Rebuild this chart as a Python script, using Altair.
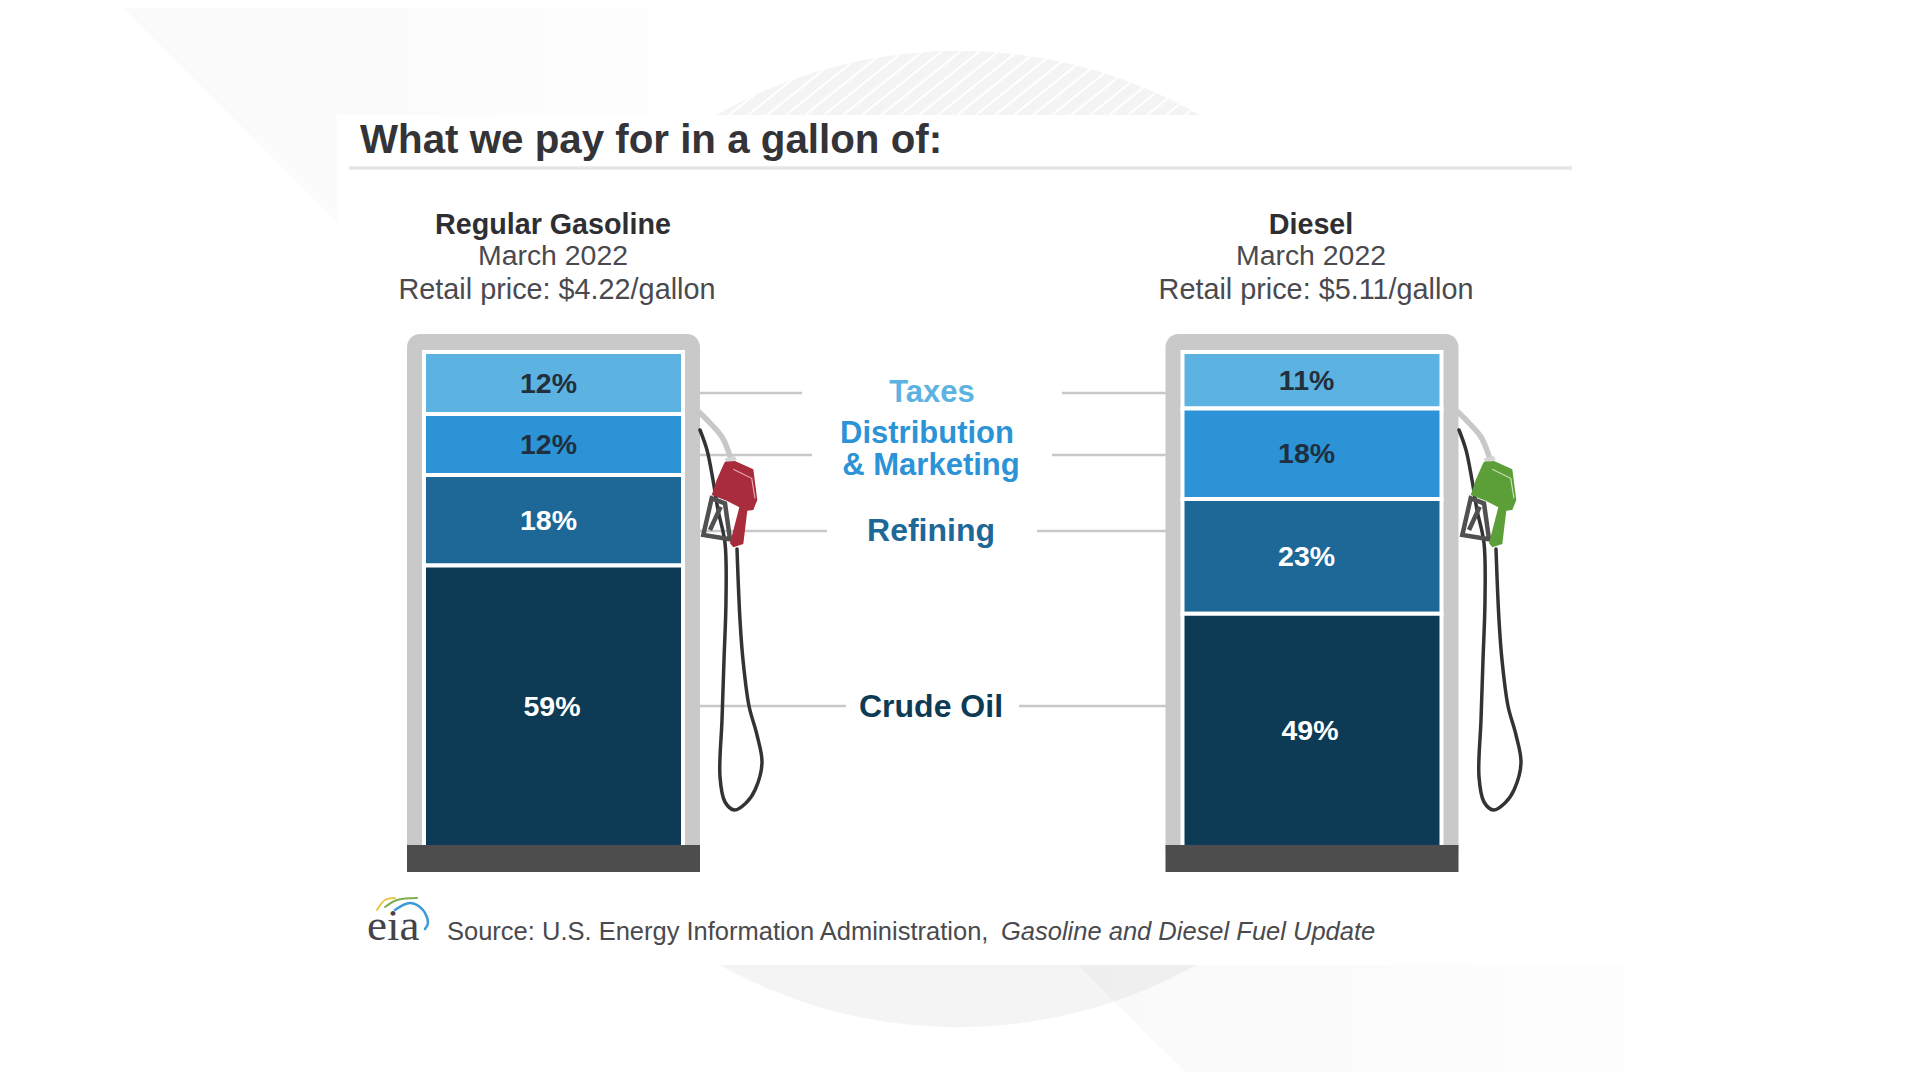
import altair as alt
import pandas as pd

# ---- chart values ----
categories = ["Taxes", "Distribution & Marketing", "Refining", "Crude Oil"]
gasoline_labels = ["12%", "12%", "18%", "59%"]
diesel_labels = ["11%", "18%", "23%", "49%"]
# segment heights as drawn, share of the pump window
gasoline_drawn = [12.5, 12.3, 18.25, 56.95]
diesel_drawn = [11.4, 18.25, 23.1, 47.25]
fuels = ["Regular Gasoline", "Diesel"]
months = ["March 2022", "March 2022"]
prices = ["Retail price: $4.22/gallon", "Retail price: $5.11/gallon"]
seg_colors = ["#5cb3e2", "#2c93d7", "#1d6897", "#0d3a54"]
label_colors = ["#22303c", "#1f2f3f", "#ffffff", "#ffffff"]

W, H = 1904, 1064
FONT = "Liberation Sans"
xs = alt.Scale(domain=[8, 1912], nice=False, zero=False, padding=0)
ys = alt.Scale(domain=[1072, 8], nice=False, zero=False, padding=0)


def X(f="x"):
    return alt.X(f"{f}:Q", scale=xs, axis=None)


def Y(f="y"):
    return alt.Y(f"{f}:Q", scale=ys, axis=None)


def rects(rows, color, **kw):
    df = pd.DataFrame(rows, columns=["x", "x2", "y", "y2"])
    return alt.Chart(df).mark_rect(color=color, **kw).encode(
        x=X(), x2="x2:Q", y=Y(), y2="y2:Q")


def rules(rows, color, width):
    df = pd.DataFrame(rows, columns=["x", "x2", "y", "y2"])
    return alt.Chart(df).mark_rule(color=color, strokeWidth=width).encode(
        x=X(), x2="x2:Q", y=Y(), y2="y2:Q")


def text(s, x, y, size, color, weight="normal", style="normal", align="center", font=FONT):
    df = pd.DataFrame({"t": [s], "x": [x], "y": [y]})
    return alt.Chart(df).mark_text(font=font, fontSize=size, color=color, fontWeight=weight,
                                   fontStyle=style, align=align, baseline="alphabetic").encode(
        x=X(), y=Y(), text="t:N")


def curve(pts, color, width, dx=0):
    df = pd.DataFrame([{"x": p[0] + dx, "y": p[1], "i": i} for i, p in enumerate(pts)])
    return alt.Chart(df).mark_line(color=color, strokeWidth=width, interpolate="catmull-rom",
                                   strokeCap="round").encode(x=X(), y=Y(), order="i:Q")


def grad(a, mid, at):
    return {"gradient": "linear", "x1": 0, "x2": 1, "y1": 0, "y2": 0,
            "stops": [{"offset": 0, "color": f"rgba(0,0,0,{a})"},
                      {"offset": at, "color": f"rgba(0,0,0,{mid})"},
                      {"offset": 1, "color": "rgba(0,0,0,0)"}]}


def band(rows, fill):
    df = pd.DataFrame(rows, columns=["y", "x", "x2"])
    return alt.Chart(df).mark_area(orient="horizontal", fill=fill).encode(
        y=Y(), x=X(), x2="x2:Q")


layers = []
# background
layers.append(band([[0, 115, 800], [222, 337, 800]], grad(0.02, 0.016, 0.4)))
circle_df = pd.DataFrame({"x": [958], "y": [539]})
layers.append(alt.Chart(circle_df).mark_point(shape="circle", filled=True, fill="#f4f4f4", opacity=1,
                                              size=976 ** 2, stroke=None).encode(x=X(), y=Y()))
layers.append(rules([[x0, x0 + 80, 115, 51] for x0 in range(710, 1200, 19)], "#ffffff", 2.2))
layers.append(band([[965, 1078, 1800], [1080, 1193, 1800]], grad(0.024, 0.016, 0.35)))
layers.append(rects([[337, 1700, 115, 965]], "#ffffff"))

# headings
layers.append(rules([[349, 1572, 168, 168]], "#e6e6e6", 3.5))
layers.append(text("What we pay for in a gallon of:", 360, 153, 40.3, "#333338", "bold", align="left"))
centers = [(553, 557), (1311, 1316)]
for fuel, month, price, (c, cp) in zip(fuels, months, prices, centers):
    layers.append(text(fuel, c, 234, 28.7, "#2f2f33", "bold"))
    layers.append(text(month, c, 265, 28.4, "#4a4a4e"))
    layers.append(text(price, cp, 299, 28.8, "#4a4a4e"))

# leader lines and labels of the categories
layers.append(rules([[699, 802, 393, 393], [1062, 1166, 393, 393],
                     [699, 812, 455, 455], [1052, 1166, 455, 455],
                     [699, 827, 531, 531], [1037, 1166, 531, 531],
                     [699, 846, 706, 706], [1019, 1166, 706, 706]], "#c8c8c8", 2.5))
layers.append(text("Taxes", 932, 402, 31, seg_colors[0], "bold"))
layers.append(text("Distribution", 927, 443, 31, seg_colors[1], "bold"))
layers.append(text("& Marketing", 931, 475, 31, seg_colors[1], "bold"))
layers.append(text("Refining", 931, 541, 32, seg_colors[2], "bold"))
layers.append(text("Crude Oil", 931, 717, 32, seg_colors[3], "bold"))

# pumps
layers.append(rects([[407, 700, 334, 850], [1165.5, 1458.5, 334, 850]], "#c9c9c9",
                    cornerRadiusTopLeft=13, cornerRadiusTopRight=13))
layers.append(rects([[422, 684, 351, 850], [1181, 1443, 351, 850]], "#ffffff"))

share_scale = alt.Scale(domain=[0, 100], range=[840, 344], nice=False, zero=False, padding=0)
for center, labels, drawn, lx in [(553.5, gasoline_labels, gasoline_drawn, [548.5, 548.5, 548.5, 552]),
                                  (1312, diesel_labels, diesel_drawn, [1306.6, 1306.6, 1306.6, 1310])]:
    df = pd.DataFrame({"cat": categories, "share": drawn, "rank": [3, 2, 1, 0],
                       "c": seg_colors, "x": center})
    layers.append(alt.Chart(df).mark_bar(size=259, stroke="#ffffff", strokeWidth=4).encode(
        x=X(), y=alt.Y("share:Q", stack="zero", scale=share_scale, axis=None),
        order=alt.Order("rank:Q"), color=alt.Color("c:N", scale=None)))
    mids, acc = [], 0.0
    for v in reversed(drawn):
        mids.append(acc + v / 2)
        acc += v
    mids.reverse()
    ldf = pd.DataFrame({"t": labels, "mid": mids, "x": lx, "c": label_colors})
    layers.append(alt.Chart(ldf).mark_text(font=FONT, fontSize=28.5, fontWeight="bold", baseline="middle",
                                           align="center", dy=0.5).encode(
        x=X(), y=alt.Y("mid:Q", scale=share_scale, axis=None), text="t:N",
        color=alt.Color("c:N", scale=None)))

layers.append(rects([[407, 700, 845, 872], [1165.5, 1458.5, 845, 872]], "#4d4d4d"))

# hoses and nozzles
gray_hose = [(699, 412), (710, 423), (722, 437), (730, 456)]
black_hose = [(700, 430), (707, 450), (713, 480), (718, 510), (725, 543), (726, 600), (724, 660),
              (722, 720), (720, 777), (725, 802), (734.5, 810), (746, 803), (755, 790), (762, 763),
              (757, 735), (749, 706), (743, 660), (740, 620), (737, 549)]
body = [(100, 195), (105, 185), (135, 183), (190, 208), (198, 270), (202, 300), (190, 330), (172, 332),
        (160, 432), (130, 442), (120, 430), (148, 322), (110, 302), (65, 285), (80, 240)]
guard = [(65, 295), (40, 405), (120, 418), (105, 310)]
shine = [(130, 208), (185, 235), (195, 295)]
ferrule = [(105, 175), (135, 168), (140, 180), (108, 188)]


def path(pts, close=True):
    return "M" + " L".join(f"{a/3:.1f},{b/3:.1f}" for a, b in pts) + (" Z" if close else "")


path_guard = path(guard) + " " + path([(60, 390), (92, 320)], False)
for dx, col, hi in [(0, "#a82c3b", "#e8a8b0"), (759, "#5c9e37", "#c8e0b4")]:
    layers.append(curve(gray_hose, "#c8c8c8", 5.5, dx))
    layers.append(curve(black_hose, "#333336", 3.5, dx))
    anchor = pd.DataFrame({"x": [690 + dx], "y": [400]})
    layers.append(alt.Chart(anchor).mark_point(shape=path_guard, size=4, filled=False, stroke="#505050",
                                               strokeWidth=4.5, opacity=1).encode(x=X(), y=Y()))
    layers.append(alt.Chart(anchor).mark_point(shape=path(ferrule), size=4, filled=True, fill="#d5d5d5",
                                               opacity=1, stroke=None).encode(x=X(), y=Y()))
    layers.append(alt.Chart(anchor).mark_point(shape=path(body), size=4, filled=True, fill=col,
                                               opacity=1, stroke=None).encode(x=X(), y=Y()))
    layers.append(alt.Chart(anchor).mark_point(shape=path(shine, False), size=4, filled=False, stroke=hi,
                                               strokeWidth=1.2, opacity=1).encode(x=X(), y=Y()))

# logo and source
layers.append(curve([(395, 910), (410, 903), (423, 910), (428, 923), (425, 929)], "#3a9ad9", 2.5))
layers.append(curve([(385, 907), (397, 900), (417, 898)], "#7fae4e", 2))
layers.append(curve([(377, 910), (385, 900), (395, 898)], "#e8c84a", 2))
layers.append(text("eia", 367, 940, 45, "#444448", align="left", font="Liberation Serif"))
layers.append(text("Source: U.S. Energy Information Administration,", 447, 940, 25.5, "#4a4a4e", align="left"))
layers.append(text("Gasoline and Diesel Fuel Update", 1001, 940, 25.5, "#4a4a4e", style="italic", align="left"))

chart = alt.layer(*layers).resolve_scale(y="independent", color="independent").properties(
    width=W, height=H, padding=0, autosize=alt.AutoSizeParams(type="none"),
    background="#ffffff"
).configure_view(stroke=None)

chart.save("out.html", embed_options={"renderer": "svg", "actions": False})
